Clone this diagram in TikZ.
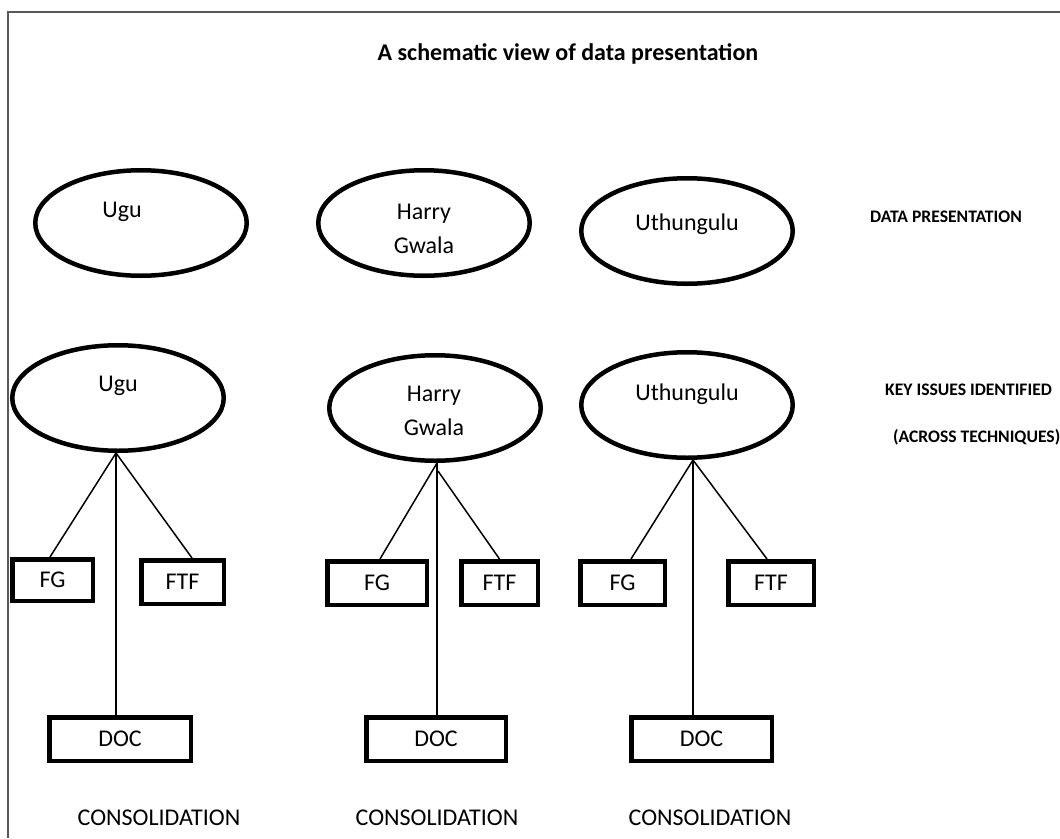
\documentclass[tikz,border=0pt]{standalone}
\usepackage{fontspec}
\setmainfont{Carlito}
\usetikzlibrary{shapes.geometric,calc}
\newcommand\bodyfnt{\fontsize{24}{34}\selectfont}
\newcommand\sidefnt{\fontsize{17.6}{22}\selectfont\bfseries}
\newcommand\titlefnt{\fontsize{24}{28}\selectfont\bfseries}
\begin{document}
\begin{tikzpicture}[x=1pt,y=-1pt,
  ell/.style={draw, ellipse, line width=4.5pt, minimum width=211.5pt, minimum height=105.5pt, inner sep=0pt},
  bx/.style={draw, rectangle, line width=4.5pt, inner sep=0pt, minimum height=43.5pt, font=\bodyfnt},
  conn/.style={line width=1.5pt},
  lbl/.style={inner sep=0pt, font=\bodyfnt, align=center},
  side/.style={inner sep=0pt, font=\sidefnt, anchor=west},
  frame/.style={line width=1.5pt, draw=black!65}]
\useasboundingbox (0,0) rectangle (1060,838);
\draw[frame] (1060,12) -- (8,12) -- (8,838);

\node[inner sep=0pt, font=\titlefnt] (title) at (568,54) {A schematic view of data presentation};

% row 1
\node[ell] (u1) at (141,223) {};
\node[ell] (h1) at (424,223) {};
\node[ell] (z1) at (687,231) {};
\node[lbl] (tu1) at (122,212) {Ugu};
\node[lbl] (th1) at (424,229) {Harry\\Gwala};
\node[lbl] (tz1) at (687,224) {Uthungulu};
\node[inner sep=0pt, font=\sidefnt] (dp) at (946,217) {DATA PRESENTATION};

% row 2
\node[ell] (u2) at (118,398) {};
\node[ell] (h2) at (435,408) {};
\node[ell] (z2) at (687,405) {};
\node[lbl] (tu2) at (118,386) {Ugu};
\node[lbl] (th2) at (434,411) {Harry\\Gwala};
\node[lbl] (tz2) at (687,394) {Uthungulu};
\node[side] (ki) at (885,390) {KEY ISSUES IDENTIFIED};
\node[side] (at) at (893,437) {(ACROSS TECHNIQUES)};

% boxes
\node[bx, minimum width=80.5pt, minimum height=41.5pt] (fg1) at (52.5,580) {FG};
\node[bx, minimum width=82.5pt] (ftf1) at (182.5,582) {FTF};
\node[bx, minimum width=99.5pt] (fg2) at (377,583) {FG};
\node[bx, minimum width=76.5pt] (ftf2) at (499.5,583) {FTF};
\node[bx, minimum width=84.5pt] (fg3) at (622.5,583) {FG};
\node[bx, minimum width=85.5pt] (ftf3) at (771,583) {FTF};
\node[bx, minimum width=141.5pt] (doc1) at (120,739) {DOC};
\node[bx, minimum width=139.5pt] (doc2) at (436,739) {DOC};
\node[bx, minimum width=140.5pt] (doc3) at (701.5,739) {DOC};

\node[lbl] (c1) at (159,818) {CONSOLIDATION};
\node[lbl] (c2) at (437,818) {CONSOLIDATION};
\node[lbl] (c3) at (710,818) {CONSOLIDATION};

% junctions
\coordinate (j1) at ($(u2.south)+(-2,0)$);
\coordinate (j2) at ($(h2.south)+(2,0)$);
\coordinate (j3) at ($(z2.south)+(6,0)$);
\coordinate (j2b) at ($(j2)+(1,8)$);

\draw[conn] (j1) -- ([xshift=-2.5pt]fg1.north);
\draw[conn] (j1) -- ([xshift=9.5pt]ftf1.north);
\draw[conn] (j1) -- (j1 |- doc1.north);

\draw[conn] (j2) -- ([xshift=3pt]fg2.north);
\draw[conn] (j2b) -- (ftf2.north);
\draw[conn] (j2) -- (j2 |- doc2.north);

\draw[conn] (j3) -- ([xshift=8.5pt]fg3.north);
\draw[conn] (j3) -- ([xshift=-4pt]ftf3.north);
\draw[conn] (j3) -- (j3 |- doc3.north);
\end{tikzpicture}
\end{document}
